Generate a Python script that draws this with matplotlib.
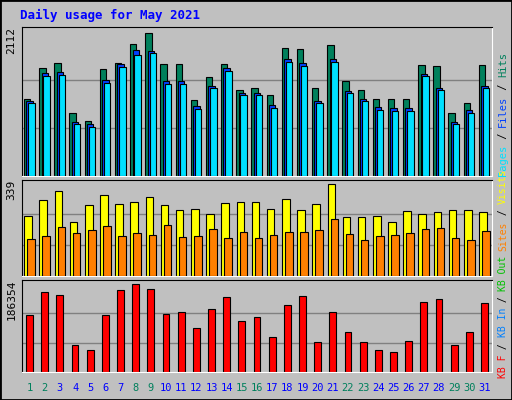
import matplotlib
matplotlib.use("Agg")
import matplotlib.pyplot as plt
from matplotlib.patches import Rectangle

days = list(range(1, 32))
hits = [1134,1587,1672,935,808,1573,1672,1942,2112,1658,1658,1120,1460,1644,1275,1290,1190,1885,1871,1290,1927,1403,1261,1134,1134,1134,1630,1616,935,1077,1630]
files = [1110,1520,1530,800,760,1420,1650,1860,1850,1400,1400,1030,1330,1590,1230,1230,1050,1730,1660,1110,1730,1260,1140,1010,1000,1000,1510,1300,800,970,1330]
pages = [1077,1474,1488,765,723,1375,1601,1786,1814,1360,1360,992,1290,1545,1190,1190,1006,1686,1616,1077,1686,1219,1105,978,964,964,1474,1261,765,935,1290]
visits = [221,280,313,199,262,298,265,273,291,262,243,247,228,269,273,273,247,284,243,265,339,217,217,221,199,240,228,236,243,243,236]
sites = [136,147,181,158,170,184,147,158,151,188,144,147,173,140,162,140,151,162,162,170,210,155,133,147,151,158,173,177,140,133,166]
kbytes = [120709,169416,163063,57178,46589,120709,173651,186354,175768,122827,127062,93179,133415,158828,108003,116474,74120,141886,160945,63531,127062,84708,63531,46589,42354,65649,148239,154592,57178,84708,146121]
weekend = {1,2,8,9,15,16,22,23,29,30}

BG = "#C0C0C0"
fig = plt.figure(figsize=(5.12, 4.0), dpi=100, facecolor=BG)
fig.patches.append(Rectangle((0, 0), 1, 1, transform=fig.transFigure, fill=False, ec="black", lw=2))
fig.text(20/512, 1-15/400, "Daily usage for May 2021", color="#0000FF", family="DejaVu Sans Mono",
         weight="bold", fontsize=9, va="center", ha="left")

L, W = 22/512, 470/512
def mk(top, bot, maxv, label):
    ax = fig.add_axes([L, 1-bot/400, W, (bot-top)/400])
    ax.set_facecolor(BG)
    ax.set_xlim(0.5, 31.5)
    ax.set_ylim(0, maxv*1.04)
    for s in ("left", "top"):
        ax.spines[s].set_color("black")
    for s in ("right", "bottom"):
        ax.spines[s].set_color("white")
    ax.set_xticks([]); ax.set_yticks([])
    for f in (1/3, 2/3):
        ax.axhline(maxv*f, color="#808080", lw=1, zorder=0)
    ax.text(-0.012, 1.0, label, transform=ax.transAxes, rotation=90, ha="right", va="top",
            family="DejaVu Sans Mono", fontsize=8)
    return ax

x = days
bw = 0.42
ax1 = mk(27, 176, max(hits), str(max(hits)))
ax1.bar([d-0.16 for d in x], hits, width=bw, color="#00805C", ec="black", lw=0.8, zorder=2)
ax1.bar([d+0.0 for d in x], files, width=bw, color="#0040FF", ec="black", lw=0.8, zorder=3)
ax1.bar([d+0.12 for d in x], pages, width=bw, color="#00E0FF", ec="black", lw=0.8, zorder=4)

ax2 = mk(180, 276, max(visits), str(max(visits)))
ax2.bar([d-0.1 for d in x], visits, width=0.5, color="#FFFF00", ec="black", lw=0.8, zorder=2)
ax2.bar([d+0.1 for d in x], sites, width=0.5, color="#FF8000", ec="black", lw=0.8, zorder=3)

ax3 = mk(280, 372, max(kbytes), str(max(kbytes)))
ax3.bar(x, kbytes, width=0.45, color="#FF0000", ec="black", lw=0.8, zorder=2)

for d in days:
    xf = L + W*(d-0.5)/31
    fig.text(xf, 1-388/400, str(d), ha="center", va="center", fontsize=7.5,
             family="DejaVu Sans Mono", color="#00805C" if d in weekend else "#0000FF")

renderer = fig.canvas.get_renderer()
def vlab(parts, ystart_px, fs):
    y = 1 - ystart_px/400
    for txt, col in parts:
        t = fig.text(503/512, y, txt, rotation=90, ha="center", va="bottom", color=col,
                     family="DejaVu Sans Mono", fontsize=fs)
        h = t.get_window_extent(renderer).height
        y += h/400 - 0.3/400

vlab([("Pages", "#00E0FF"), (" / ", "#000000"), ("Files", "#0040FF"), (" / ", "#000000"), ("Hits", "#00805C")], 176, 7.5)
vlab([("KB F", "#FF0000"), (" / ", "#000000"), ("KB In", "#0080FF"), (" / ", "#000000"),
      ("KB Out", "#00C000"), (" ", "#000000"), ("Sites", "#FF8000"), (" / ", "#000000"), ("Visits", "#FFFF00")], 378, 7)

fig.savefig("out.png", dpi=100, facecolor=BG)
